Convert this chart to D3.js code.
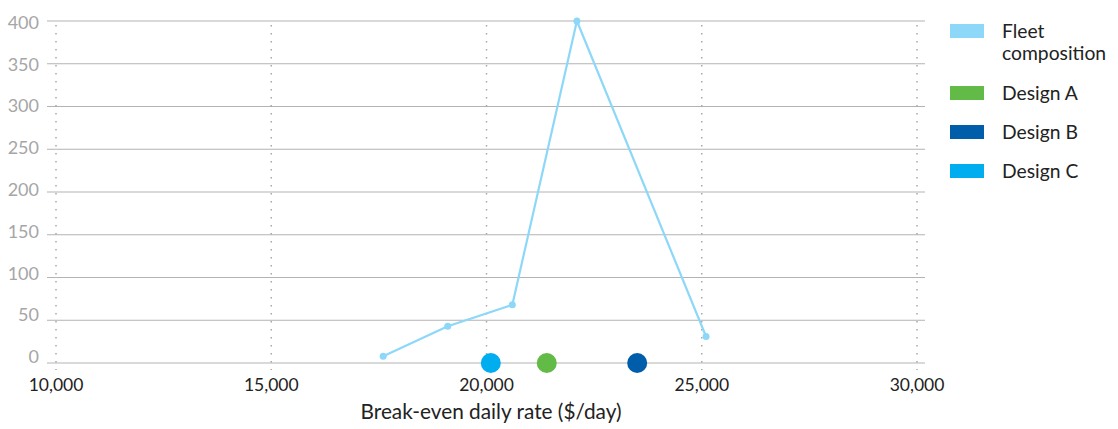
<!DOCTYPE html>
<html>
<head>
<meta charset="utf-8">
<script src="https://cdn.jsdelivr.net/npm/d3@7"></script>
<style>
  html, body { margin: 0; padding: 0; background: #fff; }
  svg { display: block; font-family: Lato, "Noto Sans", sans-serif; }
</style>
</head>
<body>
<svg id="chart" width="1118" height="429"></svg>
<script>
// Fleet composition: number of vessels at each break-even daily rate
const fleetRates = [17600, 19100, 20600, 22100, 25100];
const fleetCounts = [8, 43, 68, 400, 31];

// Break-even rates of individual designs
const designNames = ["Design A", "Design B", "Design C"];
const designRates = [21400, 23500, 20100];
const designValues = [0, 0, 0];

const xTicks = [10000, 15000, 20000, 25000, 30000];
const yTicks = [0, 50, 100, 150, 200, 250, 300, 350, 400];

const legendLabels = [["Fleet", "composition"], ["Design A"], ["Design B"], ["Design C"]];
const colors = {
  fleet: "#8dd8f8",
  "Design A": "#62bb46",
  "Design B": "#005daa",
  "Design C": "#00aeef"
};
const legendColors = [colors.fleet, colors["Design A"], colors["Design B"], colors["Design C"]];

const svg = d3.select("#chart");
const x = d3.scaleLinear().domain([10000, 30000]).range([56, 917]);
const y = d3.scaleLinear().domain([0, 400]).range([363, 21]);
// tick labels sit on a slightly tighter band than the grid lines
const yLabel = d3.scaleLinear().domain([0, 400]).range([357, 22.5]);

// horizontal grid lines
svg.append("g")
  .selectAll("line")
  .data(yTicks)
  .join("line")
  .attr("x1", 47).attr("x2", 925)
  .attr("y1", d => y(d)).attr("y2", d => y(d))
  .attr("stroke", "#b3b3b3").attr("stroke-width", 1);

// vertical dotted grid lines
svg.append("g")
  .selectAll("line")
  .data(xTicks)
  .join("line")
  .attr("x1", d => x(d)).attr("x2", d => x(d))
  .attr("y1", 25).attr("y2", 370)
  .attr("stroke", "#a8a8a8").attr("stroke-width", 1.5)
  .attr("stroke-dasharray", "1.5,6.5");

// y tick labels
svg.append("g")
  .selectAll("text")
  .data(yTicks)
  .join("text")
  .attr("x", 39).attr("y", d => yLabel(d))
  .attr("dy", "0.35em")
  .attr("text-anchor", "end")
  .attr("fill", "#a6a6a6")
  .attr("font-size", 18)
  .text(d => d);

// x tick labels
const fmt = d3.format(",");
svg.append("g")
  .selectAll("text")
  .data(xTicks)
  .join("text")
  .attr("x", d => x(d)).attr("y", 391)
  .attr("text-anchor", "middle")
  .attr("fill", "#222")
  .attr("font-size", 17.5)
  .text(d => fmt(d));

// x axis title
svg.append("text")
  .attr("x", 491).attr("y", 419)
  .attr("text-anchor", "middle")
  .attr("fill", "#222")
  .attr("font-size", 20.8)
  .text("Break-even daily rate ($/day)");

// fleet composition line
const fleet = fleetRates.map((r, i) => ({ r, c: fleetCounts[i] }));
svg.append("path")
  .datum(fleet)
  .attr("fill", "none")
  .attr("stroke", colors.fleet)
  .attr("stroke-width", 2.2)
  .attr("d", d3.line().x(d => x(d.r)).y(d => y(d.c)));

svg.append("g")
  .selectAll("circle")
  .data(fleet)
  .join("circle")
  .attr("cx", d => x(d.r)).attr("cy", d => y(d.c))
  .attr("r", 3.5)
  .attr("fill", colors.fleet);

// design markers
const designs = designNames.map((n, i) => ({ n, r: designRates[i], v: designValues[i] }));
svg.append("g")
  .selectAll("circle")
  .data(designs)
  .join("circle")
  .attr("cx", d => x(d.r)).attr("cy", d => y(d.v))
  .attr("r", 10)
  .attr("fill", d => colors[d.n]);

// legend
const legendY = [24, 86, 125, 164];
const lg = svg.append("g");
legendLabels.forEach((lines, i) => {
  lg.append("rect")
    .attr("x", 950).attr("y", legendY[i])
    .attr("width", 34).attr("height", 14)
    .attr("fill", legendColors[i]);
  const t = lg.append("text")
    .attr("x", 1002).attr("y", legendY[i] + 7)
    .attr("dy", "0.35em")
    .attr("fill", "#222")
    .attr("font-size", 19.3);
  lines.forEach((l, j) => {
    t.append("tspan").attr("x", 1002).attr("dy", j === 0 ? "0.35em" : "1.13em").text(l);
  });
});
</script>
</body>
</html>
